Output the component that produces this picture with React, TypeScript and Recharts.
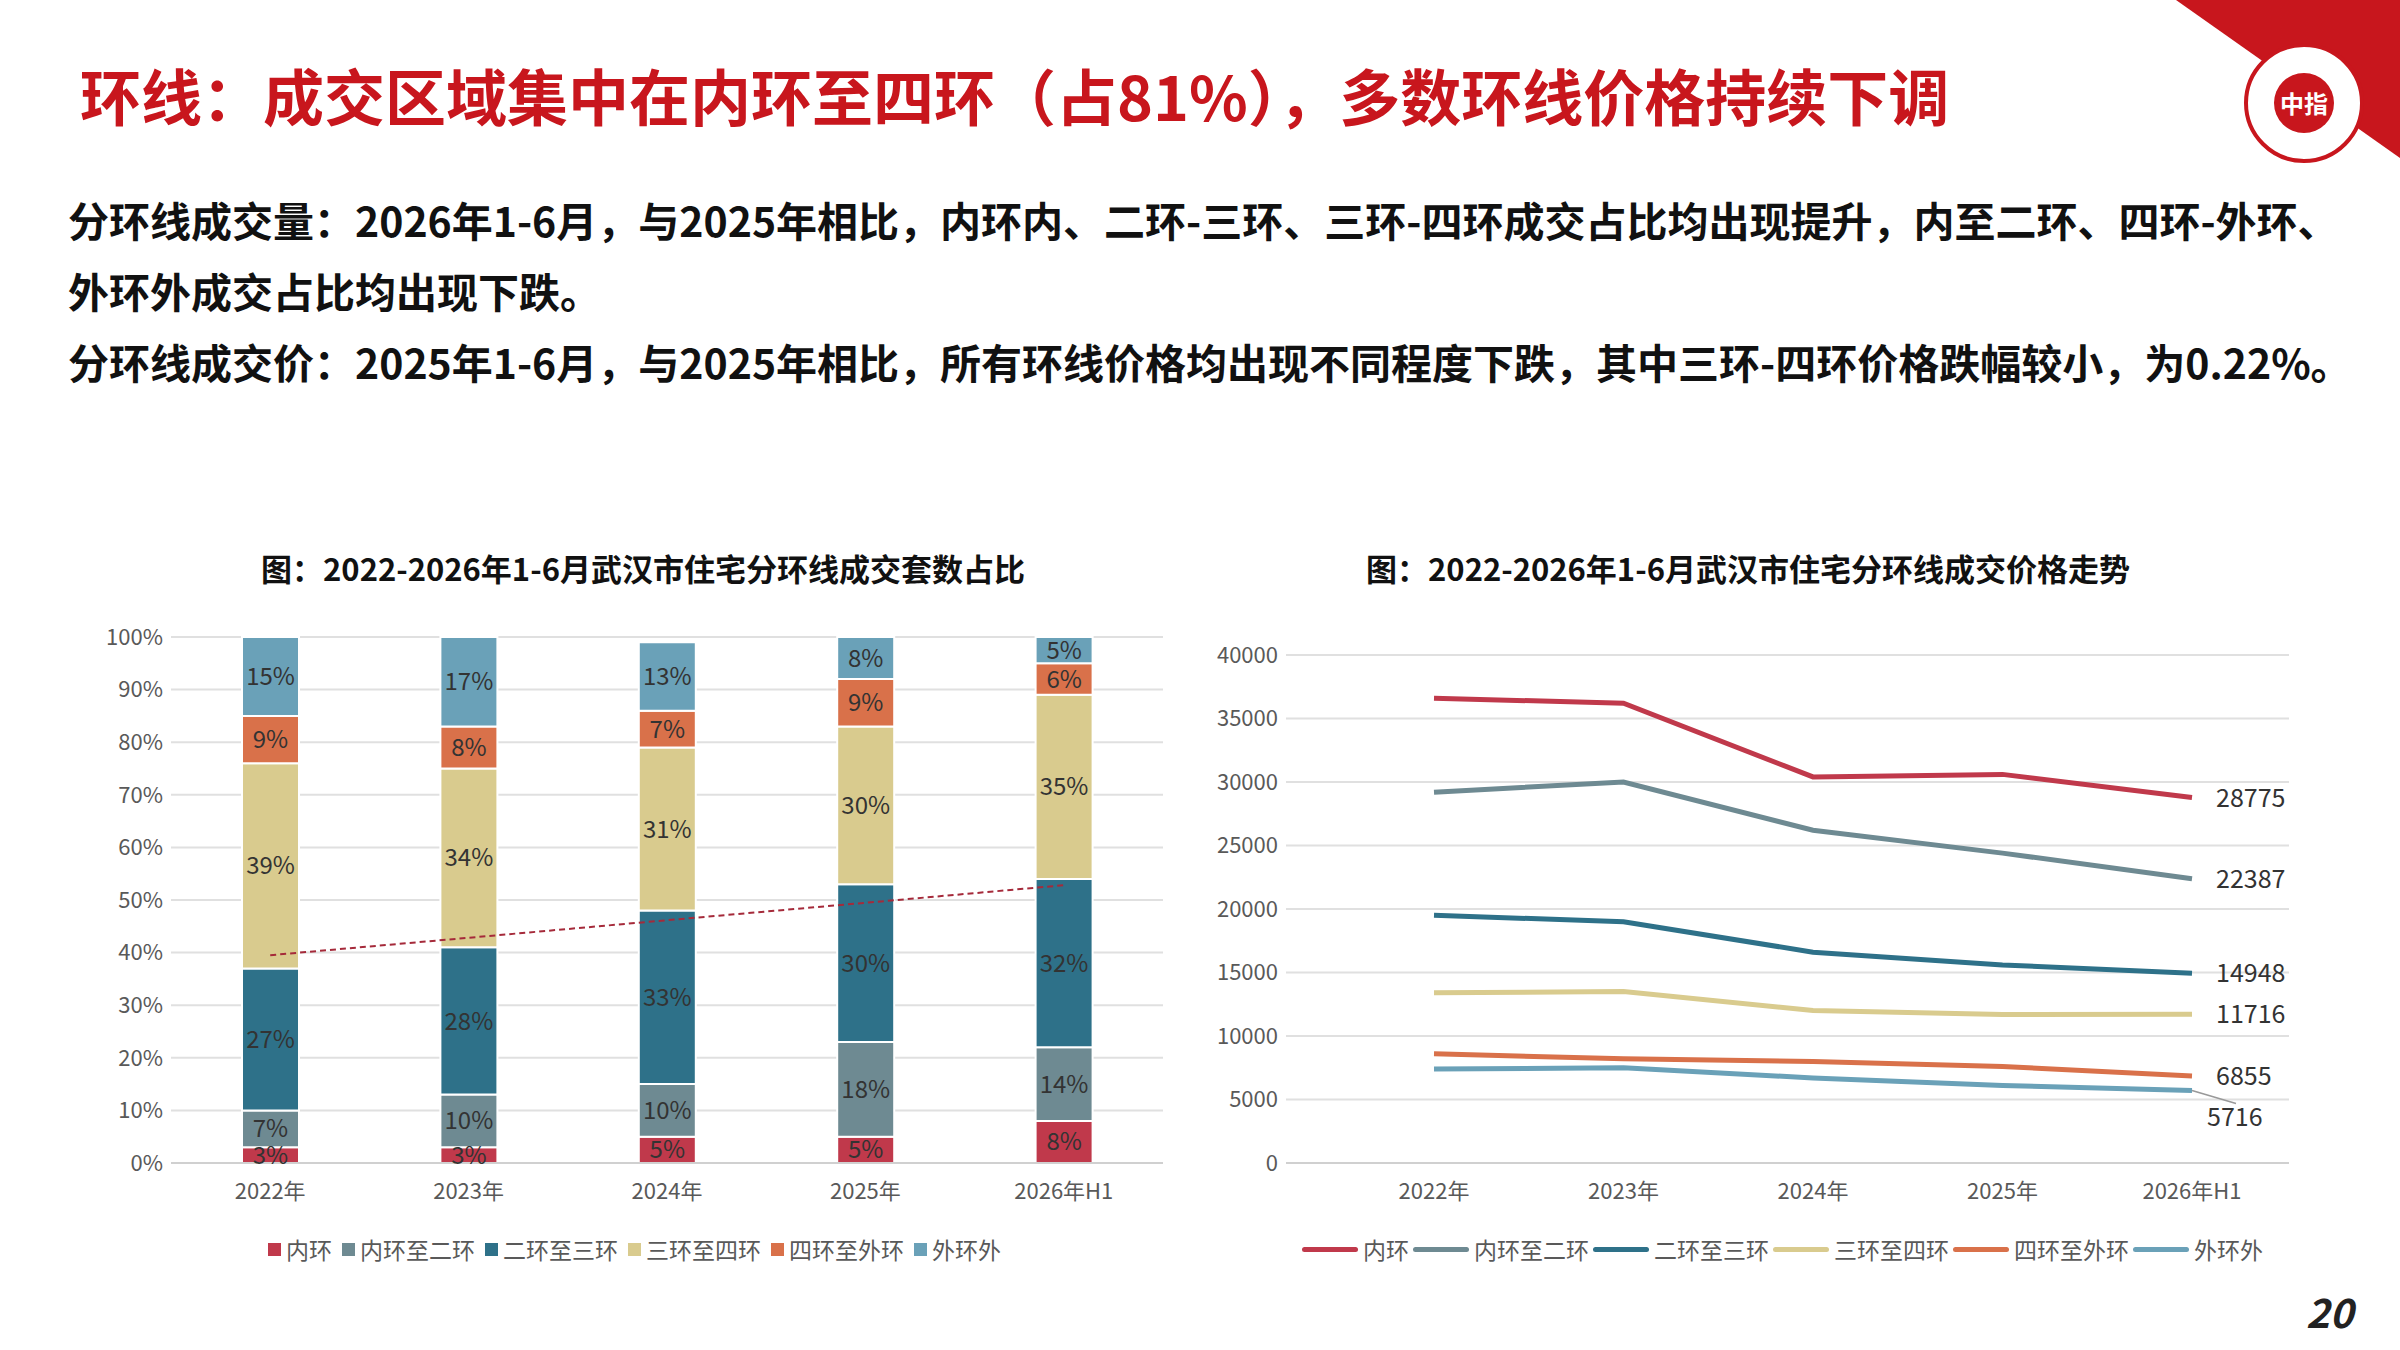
import { BarChart, Bar, LineChart, Line, XAxis, YAxis, CartesianGrid, LabelList, ReferenceLine } from 'recharts'

const years = ['2022年', '2023年', '2024年', '2025年', '2026年H1']
const rings = ['内环', '内环至二环', '二环至三环', '三环至四环', '四环至外环', '外环外']
const colors = ['#C0394B', '#6E8A92', '#2E7189', '#D9CB8E', '#D9714A', '#6AA1B8']

// share of deals (%)
const shareInner = [3, 3, 5, 5, 8]
const shareInnerTo2 = [7, 10, 10, 18, 14]
const share2To3 = [27, 28, 33, 30, 32]
const share3To4 = [39, 34, 31, 30, 35]
const share4ToOuter = [9, 8, 7, 9, 6]
const shareOuter = [15, 17, 13, 8, 5]
const trendStart = 39.5
const trendEnd = 52.8

// price (yuan/m2)
const priceInner = [36600, 36200, 30400, 30600, 28775]
const priceInnerTo2 = [29200, 30000, 26200, 24400, 22387]
const price2To3 = [19500, 19000, 16600, 15600, 14948]
const price3To4 = [13400, 13500, 12000, 11700, 11716]
const price4ToOuter = [8600, 8200, 8000, 7600, 6855]
const priceOuter = [7400, 7500, 6700, 6100, 5716]

const shares = [shareInner, shareInnerTo2, share2To3, share3To4, share4ToOuter, shareOuter]
const prices = [priceInner, priceInnerTo2, price2To3, price3To4, price4ToOuter, priceOuter]
const keys = ['s0', 's1', 's2', 's3', 's4', 's5']

const shareData = years.map((y, i) => {
  const row: any = { year: y }
  shares.forEach((s, k) => (row[keys[k]] = s[i]))
  return row
})
const priceData = years.map((y, i) => {
  const row: any = { year: y }
  prices.forEach((s, k) => (row[keys[k]] = s[i]))
  return row
})

const font = '"Noto Sans CJK SC", "Noto Sans", sans-serif'
const tick = { fontSize: 22, fill: '#595959', fontFamily: font }
const xTick = { ...tick, dy: 12 }

function EndLabel(props: any) {
  const { x, y, index, value, k } = props
  if (index !== years.length - 1) return null
  if (k === 5) {
    return (
      <g>
        <line x1={x} y1={y} x2={x + 44} y2={y + 13} stroke="#999" strokeWidth={1.5} />
        <text x={x + 15} y={y + 36} fontSize={25} fill="#333" fontFamily={font}>{value}</text>
      </g>
    )
  }
  return <text x={x + 24} y={y + 9} fontSize={25} fill="#333" fontFamily={font}>{value}</text>
}

function Legend({ line, left, top }: { line: boolean; left: number; top: number }) {
  return (
    <div style={{ position: 'absolute', left, top, display: 'flex', alignItems: 'center', fontSize: 23, color: '#595959', fontFamily: font }}>
      {rings.map((r, i) => (
        <div key={r} style={{ display: 'flex', alignItems: 'center', marginRight: line ? 4 : 10 }}>
          <div style={{ width: line ? 56 : 13, height: line ? 5 : 13, background: colors[i], marginRight: 5, borderRadius: line ? 3 : 0 }} />
          <span>{r}</span>
        </div>
      ))}
    </div>
  )
}

export default function App() {
  return (
    <div style={{ position: 'absolute', left: 0, top: 0, width: 2400, height: 1350, background: '#fff', overflow: 'hidden', fontFamily: font }}>
      <svg style={{ position: 'absolute', left: 0, top: 0 }} width={2400} height={1350}>
        <polygon points="2176,0 2400,0 2400,158" fill="#C8161D" />
        <circle cx={2304} cy={103} r={58} fill="#fff" stroke="#C8161D" strokeWidth={4} />
        <circle cx={2304} cy={103} r={30} fill="#C8161D" />
        <text x={2304} y={113} textAnchor="middle" fontSize={24} fill="#fff" fontWeight="bold" fontFamily={font}>中指</text>
      </svg>
      <div style={{ position: 'absolute', left: 80, top: 50, fontSize: 61, fontWeight: 'bold', color: '#C8161D' }}>
        环线：成交区域集中在内环至四环（占81%），多数环线价格持续下调
      </div>
      <div style={{ position: 'absolute', left: 68, top: 184, fontSize: 41, fontWeight: 'bold', color: '#111', lineHeight: '71px', width: 2330, whiteSpace: 'nowrap' }}>
        <div>分环线成交量：2026年1-6月，与2025年相比，内环内、二环-三环、三环-四环成交占比均出现提升，内至二环、四环-外环、</div>
        <div>外环外成交占比均出现下跌。</div>
        <div>分环线成交价：2025年1-6月，与2025年相比，所有环线价格均出现不同程度下跌，其中三环-四环价格跌幅较小，为0.22%。</div>
      </div>
      <div style={{ position: 'absolute', left: 0, width: 1286, top: 545, textAlign: 'center', fontSize: 31, fontWeight: 'bold', color: '#111' }}>
        图：2022-2026年1-6月武汉市住宅分环线成交套数占比
      </div>
      <div style={{ position: 'absolute', left: 1200, width: 1096, top: 545, textAlign: 'center', fontSize: 31, fontWeight: 'bold', color: '#111' }}>
        图：2022-2026年1-6月武汉市住宅分环线成交价格走势
      </div>

      <div style={{ position: 'absolute', left: 80, top: 600 }}>
        <BarChart width={1120} height={700} data={shareData} margin={{ top: 37, right: 37, left: 31, bottom: 107 }}>
          <CartesianGrid vertical={false} stroke="#e0e0e0" strokeWidth={2} />
          <XAxis dataKey="year" tick={xTick} tickLine={false} axisLine={{ stroke: '#d0d0d0', strokeWidth: 2 }} height={30} />
          <YAxis domain={[0, 100]} ticks={[0, 10, 20, 30, 40, 50, 60, 70, 80, 90, 100]} tickFormatter={(v) => v + '%'} tick={tick} axisLine={false} tickLine={false} width={60} />
          {keys.map((k, i) => (
            <Bar key={k} dataKey={k} stackId="a" fill={colors[i]} stroke="#fff" strokeWidth={2} barSize={57} isAnimationActive={false}>
              <LabelList dataKey={k} position="center" formatter={(v: any) => v + '%'} style={{ fontSize: 24, fill: '#333', fontFamily: font }} />
            </Bar>
          ))}
          <ReferenceLine segment={[{ x: years[0], y: trendStart }, { x: years[4], y: trendEnd }]} stroke="#A52A3A" strokeWidth={2} strokeDasharray="6 4" />
        </BarChart>
      </div>
      <Legend line={false} left={268} top={1232} />

      <div style={{ position: 'absolute', left: 1200, top: 600 }}>
        <LineChart width={1200} height={700} data={priceData} margin={{ top: 55, right: 111, left: 16, bottom: 107 }}>
          <CartesianGrid vertical={false} stroke="#e0e0e0" strokeWidth={2} />
          <XAxis dataKey="year" tick={xTick} tickLine={false} axisLine={{ stroke: '#d0d0d0', strokeWidth: 2 }} height={30} padding={{ left: 148, right: 97 }} />
          <YAxis domain={[0, 40000]} ticks={[0, 5000, 10000, 15000, 20000, 25000, 30000, 35000, 40000]} tick={tick} axisLine={false} tickLine={false} width={70} />
          {keys.map((k, i) => (
            <Line key={k} dataKey={k} stroke={colors[i]} strokeWidth={5} dot={false} isAnimationActive={false}>
              <LabelList dataKey={k} content={(p: any) => <EndLabel {...p} k={i} />} />
            </Line>
          ))}
        </LineChart>
      </div>
      <Legend line={true} left={1302} top={1232} />

      <div style={{ position: 'absolute', left: 2306, top: 1282, fontSize: 40, fontWeight: 'bold', fontStyle: 'italic', color: '#222' }}>20</div>
    </div>
  )
}
